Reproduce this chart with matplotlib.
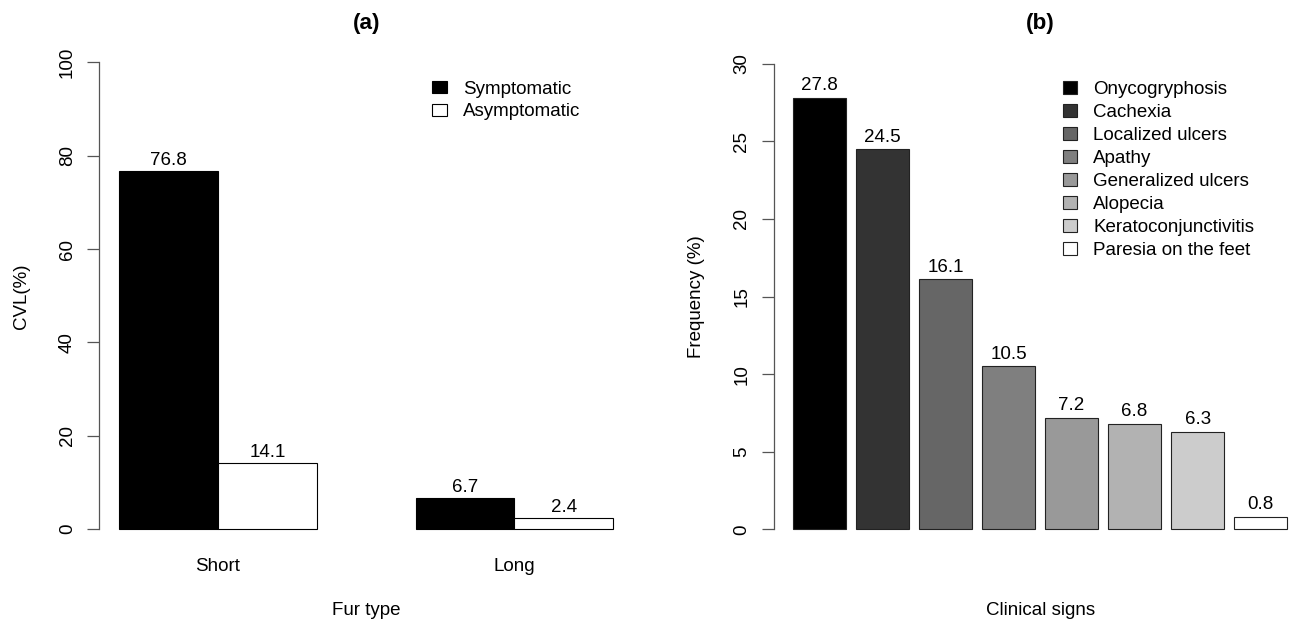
import matplotlib
matplotlib.use('Agg')
import matplotlib.pyplot as plt
import numpy as np

plt.rcParams['font.family'] = ['Liberation Sans', 'DejaVu Sans']

# ---- data ----
fur_types = ['Short', 'Long']
status = ['Symptomatic', 'Asymptomatic']
symptomatic = [76.8, 6.7]
asymptomatic = [14.1, 2.4]
status_colors = ['#000000', '#ffffff']

signs = ['Onycogryphosis', 'Cachexia', 'Localized ulcers', 'Apathy',
         'Generalized ulcers', 'Alopecia', 'Keratoconjunctivitis',
         'Paresia on the feet']
frequency = [27.8, 24.5, 16.1, 10.5, 7.2, 6.8, 6.3, 0.8]
sign_colors = ['#000000', '#333333', '#666666', '#7f7f7f',
               '#999999', '#b2b2b2', '#cccccc', '#ffffff']

W, H = 1293, 622
FS = 13.5
AXC = '#555555'
fig = plt.figure(figsize=(W / 100, H / 100), dpi=100)


def px_axes(l, r, t, b):
    return fig.add_axes([l / W, 1 - b / H, (r - l) / W, (b - t) / H])


def style(ax, ymax, step):
    for s in ['top', 'right', 'bottom']:
        ax.spines[s].set_visible(False)
    ax.spines['left'].set_bounds(0, ymax)
    ax.spines['left'].set_color(AXC)
    ax.spines['left'].set_linewidth(0.9)
    ax.set_yticks(range(0, ymax + 1, step))
    ax.tick_params(axis='y', length=8.4, width=0.9, color=AXC, pad=8.4,
                   labelsize=FS)
    for lab in ax.get_yticklabels():
        lab.set_rotation(90)
        lab.set_va('center')
    ax.tick_params(axis='x', length=0, pad=7.5, labelsize=FS)
    ax.patch.set_visible(False)


def texts(ax, title, xlabel, ylabel, top_px, bottom_px):
    ax.annotate(title, (0.5, 1), xycoords='axes fraction',
                xytext=(0, top_px - 28.5), textcoords='offset pixels',
                ha='center', va='baseline', fontsize=16.2, fontweight='bold')
    ax.annotate(xlabel, (0.5, 0), xycoords='axes fraction',
                xytext=(0, -(615.4 - bottom_px)), textcoords='offset pixels',
                ha='center', va='baseline', fontsize=FS)
    ax.annotate(ylabel, (0, 0.5), xycoords='axes fraction',
                xytext=(-73, 0), textcoords='offset pixels',
                rotation=90, rotation_mode='anchor',
                ha='center', va='baseline', fontsize=FS)


LEG = dict(loc='upper left', bbox_transform=fig.transFigure, frameon=False,
           fontsize=FS, handlelength=0.78, handleheight=0.66,
           handletextpad=0.87, labelspacing=0.32, borderpad=0, borderaxespad=0)

# ---- panel (a) ----
axA = px_axes(99.3, 633.0, 43.8, 547.7)
group_start = 1 + 3 * np.arange(len(fur_types))
bS = axA.bar(group_start + 0.5, symptomatic, width=1.0, color=status_colors[0],
             edgecolor='black', linewidth=0.8)
bA = axA.bar(group_start + 1.5, asymptomatic, width=1.0, color=status_colors[1],
             edgecolor='black', linewidth=0.8)
for bars, vals in ((bS, symptomatic), (bA, asymptomatic)):
    for r, v in zip(bars.patches, vals):
        axA.annotate(f'{v:.1f}', (r.get_x() + r.get_width() / 2, v),
                     xytext=(0, 6), textcoords='offset pixels',
                     ha='center', va='baseline', fontsize=FS)
axA.set_xlim(0.8, 6.2)
axA.set_ylim(-4, 104)
axA.set_xticks(group_start + 1, fur_types)
style(axA, 100, 20)
texts(axA, '(a)', 'Fur type', 'CVL(%)', 43.8, 547.7)
axA.legend([bS, bA], status, bbox_to_anchor=(432 / W, 1 - 80.5 / H), **LEG)

# ---- panel (b) ----
axB = px_axes(773.6, 1306.6, 45.1, 547.9)
xb = 0.7 + 1.2 * np.arange(len(signs))
bB = axB.bar(xb, frequency, width=1.0, color=sign_colors,
             edgecolor='#222222', linewidth=0.8)
for r, v in zip(bB.patches, frequency):
    axB.annotate(f'{v:.1f}', (r.get_x() + r.get_width() / 2, v),
                 xytext=(0, 7.5), textcoords='offset pixels',
                 ha='center', va='baseline', fontsize=FS)
axB.set_xlim(-0.176, 9.976)
axB.set_ylim(-1.2, 31.2)
axB.set_xticks([])
style(axB, 30, 5)
texts(axB, '(b)', 'Clinical signs', 'Frequency (%)', 45.1, 547.9)
axB.legend(bB.patches, signs, bbox_to_anchor=(1062.5 / W, 1 - 81 / H), **LEG)

fig.savefig('out.png', dpi=100)
